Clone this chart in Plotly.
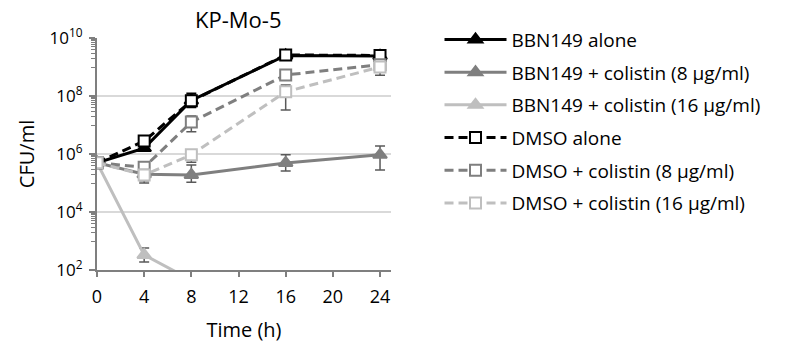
import plotly.graph_objects as go

time_h = [0, 4, 8, 16, 24]

bbn_alone = [5.0e5, 1.6e6, 7.0e7, 2.5e9, 2.4e9]
bbn_alone_up = [0, 3e5, 5.5e7, 3e8, 3e8]
bbn_alone_dn = [0, 3e5, 3e7, 3e8, 3e8]

bbn_col8 = [5.0e5, 2.0e5, 1.9e5, 4.9e5, 9.4e5]
bbn_col8_up = [0, 1.0e5, 2.3e5, 4.5e5, 9.6e5]
bbn_col8_dn = [0, 0.8e5, 0.83e5, 2.3e5, 6.6e5]

bbn_col16 = [5.0e5, 330, 45, None, None]
bbn_col16_up = [0, 240, 0, 0, 0]
bbn_col16_dn = [0, 140, 0, 0, 0]

dmso_alone = [5.0e5, 2.8e6, 6.8e7, 2.6e9, 2.5e9]
dmso_alone_up = [0, 4e5, 4e7, 3e8, 3e8]
dmso_alone_dn = [0, 4e5, 2e7, 3e8, 3e8]

dmso_col8 = [5.0e5, 3.5e5, 1.26e7, 5.3e8, 1.2e9]
dmso_col8_up = [0, 1e5, 8e6, 1e8, 2e8]
dmso_col8_dn = [0, 1e5, 6.8e6, 1e8, 2e8]

dmso_col16 = [5.0e5, 1.9e5, 9.4e5, 1.4e8, 1.0e9]
dmso_col16_up = [0, 1.0e5, 2e5, 1e8, 4e8]
dmso_col16_dn = [0, 0.9e5, 4.2e5, 1.07e8, 4.8e8]

names = [
    "BBN149 alone",
    "BBN149 + colistin (8 μg/ml)",
    "BBN149 + colistin (16 μg/ml)",
    "DMSO alone",
    "DMSO + colistin (8 μg/ml)",
    "DMSO + colistin (16 μg/ml)",
]

y_tick_vals = [1e2, 1e4, 1e6, 1e8, 1e10]
y_tick_text = ["10<sup>2</sup>", "10<sup>4</sup>", "10<sup>6</sup>", "10<sup>8</sup>", "10<sup>10</sup>"]
x_tick_vals = [0, 4, 8, 12, 16, 20, 24]

BLACK = "#000000"
DARK = "#7f7f7f"
LIGHT = "#bfbfbf"
ERR_DARK = "#595959"
FONT = "'Open Sans', sans-serif"

series = [
    (bbn_alone, bbn_alone_up, bbn_alone_dn, BLACK, "solid", "triangle-up", BLACK, BLACK),
    (bbn_col8, bbn_col8_up, bbn_col8_dn, DARK, "solid", "triangle-up", DARK, ERR_DARK),
    (bbn_col16, bbn_col16_up, bbn_col16_dn, LIGHT, "solid", "triangle-up", LIGHT, ERR_DARK),
    (dmso_alone, dmso_alone_up, dmso_alone_dn, BLACK, "dash", "square", "white", BLACK),
    (dmso_col8, dmso_col8_up, dmso_col8_dn, DARK, "dash", "square", "white", ERR_DARK),
    (dmso_col16, dmso_col16_up, dmso_col16_dn, LIGHT, "dash", "square", "white", ERR_DARK),
]

fig = go.Figure()
for i, (vals, up, dn, col, dash, sym, fill, ecol) in enumerate(series):
    fig.add_trace(go.Scatter(
        x=time_h, y=vals, name=names[i], mode="lines+markers",
        legendgroup=f"g{i}",
        line=dict(color=col, width=3, dash="9px,5px" if dash == "dash" else "solid"),
        marker=dict(symbol=sym, size=12 if sym == "triangle-up" else 11,
                    color=fill, line=dict(color=col, width=2)),
        error_y=dict(type="data", symmetric=False, array=up, arrayminus=dn,
                     color=ecol, thickness=1.5, width=5),
    ))

minor_vals = []
for e in (3, 5, 7, 9):
    for k in range(1, 10):
        minor_vals.append(k * 10 ** (e - 1) * 10)

fig.update_layout(
    width=793, height=349,
    margin=dict(l=97, r=402, t=38, b=79),
    paper_bgcolor="white", plot_bgcolor="white",
    font=dict(family=FONT, size=17, color="#000000"),
    showlegend=True,
    legend=dict(x=1.165, y=1.075, xanchor="left", yanchor="top",
                font=dict(family=FONT, size=19, color="#000000"),
                tracegroupgap=5, itemwidth=62, bgcolor="rgba(0,0,0,0)",
                maxheight=349),
    annotations=[dict(text="KP-Mo-5", x=0.48, y=1.0, xref="paper", yref="paper",
                      xanchor="center", yanchor="bottom", yshift=2, showarrow=False,
                      font=dict(family=FONT, size=22, color="#000000"))],
)

fig.update_xaxes(
    range=[0, 24.93], tickvals=x_tick_vals, ticks="outside", ticklen=5,
    tickcolor=DARK, tickwidth=1.5, showline=True, linecolor=DARK, linewidth=2,
    showgrid=False, zeroline=False, ticklabelstandoff=4,
    title=dict(text="Time (h)", font=dict(family=FONT, size=20), standoff=16),
    tickfont=dict(family=FONT, size=18),
)
fig.update_yaxes(
    type="log", range=[2, 10], tickvals=y_tick_vals, ticktext=y_tick_text,
    ticks="outside", ticklen=6, tickcolor=DARK, tickwidth=2,
    showline=True, linecolor=DARK, linewidth=2, ticklabelstandoff=3,
    showgrid=True, gridcolor="#d9d9d9", gridwidth=1.5, zeroline=False,
    minor=dict(tickvals=minor_vals, ticks="outside", ticklen=4, tickcolor=DARK,
               tickwidth=1, showgrid=False),
    title=dict(text="CFU/ml", font=dict(family=FONT, size=20), standoff=10),
    tickfont=dict(family=FONT, size=17),
)

fig.write_html("out.html")
